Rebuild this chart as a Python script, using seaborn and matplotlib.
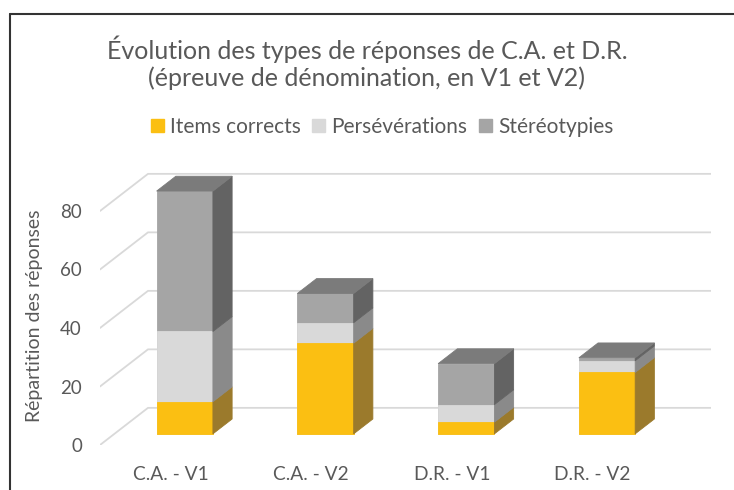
import numpy as np
import matplotlib
matplotlib.use("Agg")
import matplotlib.pyplot as plt
from matplotlib.patches import Polygon, Patch
from matplotlib.lines import Line2D
import seaborn as sns

categories = ["C.A. - V1", "C.A. - V2", "D.R. - V1", "D.R. - V2"]
items_corrects = [11, 31, 4, 21]
perseverations = [24, 7, 6, 4]
stereotypies = [48, 10, 14, 1]
series_names = ["Items corrects", "Persévérations", "Stéréotypies"]
y_ticks = [0, 20, 40, 60, 80]

front_colors = ["#FBBF12", "#D9D9D9", "#A5A5A5"]
side_colors = ["#9B7A2C", "#8A8A8A", "#636363"]
top_color = "#7B7B7B"
grid_color = "#D9D9D9"
text_color = "#595959"

# fake 3D: oblique depth of the floor (category units, value units)
depth_x, depth_y = 0.341, 12.7
bar_w = 0.4
front, back = 0.3, 0.7

sns.set_theme(style="white")
plt.rcParams["font.family"] = ["Lato", "DejaVu Sans"]

fig = plt.figure(figsize=(7.34, 4.9), dpi=100)
ymax = 95
ax = fig.add_axes([100 / 734, 45 / 490, 611 / 734, ymax * 2.925 / 490])

# side wall and back wall gridlines
for v in y_ticks:
    ax.plot([-0.5, -0.5 + depth_x, len(categories) - 0.5 + depth_x],
            [v, v + depth_y, v + depth_y], color=grid_color, lw=1.3, zorder=1)

values = np.array([items_corrects, perseverations, stereotypies])
cum = np.cumsum(values, axis=0)
xpos = np.arange(len(categories)) + front * depth_x
y0 = front * depth_y

# front faces, tallest first so the lower segments sit on top
for k in reversed(range(len(series_names))):
    sns.barplot(x=xpos, y=cum[k], native_scale=True, width=bar_w, bottom=y0,
                color=front_colors[k], saturation=1, errorbar=None,
                linewidth=0.6, edgecolor=front_colors[k], zorder=3, ax=ax)

# side and top faces
sx, sy = (back - front) * depth_x, (back - front) * depth_y
for i, xc in enumerate(xpos):
    x0, x1 = xc - bar_w / 2, xc + bar_w / 2
    bottom = y0
    for k in range(len(series_names)):
        top = bottom + values[k, i]
        if values[k, i] > 0:
            ax.add_patch(Polygon([(x1, bottom), (x1 + sx, bottom + sy),
                                  (x1 + sx, top + sy), (x1, top)],
                                 closed=True, fc=side_colors[k], ec=side_colors[k],
                                 lw=0.6, zorder=3))
        bottom = top
    ax.add_patch(Polygon([(x0, bottom), (x1, bottom), (x1 + sx, bottom + sy),
                          (x0 + sx, bottom + sy)],
                         closed=True, fc=top_color, ec=top_color, lw=0.6, zorder=3))

ax.set_xlim(-0.5, len(categories) - 0.5 + depth_x)
ax.set_ylim(0, ymax)
ax.set_xticks(range(len(categories)), categories)
ax.set_yticks(y_ticks)
ax.tick_params(length=0, labelcolor=text_color)
ax.tick_params(axis="y", pad=13, labelsize=13.5)
ax.tick_params(axis="x", pad=15, labelsize=13.8)
ax.set_xlabel("")
ax.set_ylabel("")
sns.despine(ax=ax, left=True, bottom=True)
ax.patch.set_alpha(0)

fig.text(35 / 734, 1 - 316 / 490, "Répartition des réponses", rotation=90,
         ha="center", va="center", fontsize=14, color=text_color)

fig.text(0.5, 1 - 62.5 / 490,
         "Évolution des types de réponses de C.A. et D.R.\n(épreuve de dénomination, en V1 et V2)",
         ha="center", va="center", fontsize=18, color=text_color, linespacing=1.17)

handles = [Patch(color=c) for c in front_colors]
fig.legend(handles, series_names, ncol=3, loc="center",
           bbox_to_anchor=(382 / 734, 1 - 127 / 490), frameon=False, fontsize=15,
           handlelength=0.62, handleheight=0.62, handletextpad=0.3,
           columnspacing=0.55, labelcolor=text_color)

# chart frame
fig.add_artist(Line2D([10 / 734, 10 / 734], [0, 1 - 14 / 490],
                      transform=fig.transFigure, color="#333333", lw=1.5))
fig.add_artist(Line2D([10 / 734, 1], [1 - 14 / 490, 1 - 14 / 490],
                      transform=fig.transFigure, color="#333333", lw=1.5))

fig.savefig("out.png", dpi=100)
